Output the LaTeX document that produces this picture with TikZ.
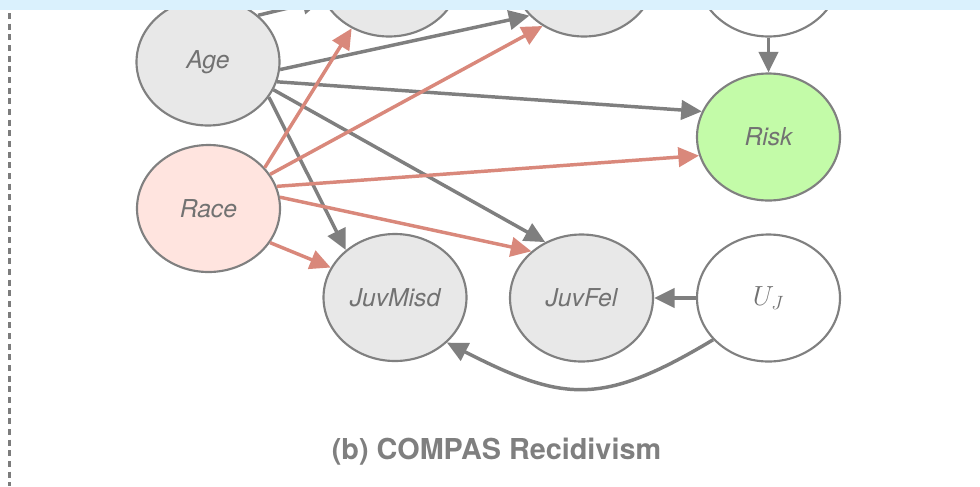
\documentclass[tikz,border=0pt]{standalone}
\usepackage{fontspec}
\setmainfont{TeX Gyre Heros}
\usetikzlibrary{shapes.geometric,arrows.meta}

\definecolor{edgegray}{HTML}{7F7F7F}
\definecolor{edgered}{HTML}{D9887B}
\definecolor{nodegray}{HTML}{E8E8E8}
\definecolor{racefill}{HTML}{FFE4DF}
\definecolor{riskfill}{HTML}{C3FBA8}
\definecolor{bordergray}{HTML}{808080}
\definecolor{labelgray}{HTML}{727272}
\definecolor{bandblue}{HTML}{DAF1FD}
\definecolor{rulegray}{HTML}{7C7C7C}

\begin{document}
\begin{tikzpicture}[x=0.75pt,y=0.75pt,
  var/.style={ellipse, draw=bordergray, line width=1.6pt,
    minimum width=107.25pt, minimum height=95.25pt, inner sep=0pt,
    text=labelgray, font=\fontsize{18.5}{20}\selectfont\itshape},
  observed/.style={var, fill=nodegray},
  latent/.style={var, fill=white},
  link/.style={line width=2.6pt, draw=edgegray,
    -{Triangle[length=15.5pt,width=14.5pt]}},
  redlink/.style={link, draw=edgered},
]
\useasboundingbox (0,0) rectangle (980,-486);
\clip (0,0) rectangle (980,-486);

% nodes of the upper row (mostly outside the frame)
\node[observed] (topA) at (389,27) {};
\node[observed] (topB) at (584,27) {};
\node[latent]   (topC) at (768.5,27) {};

% main nodes
\node[observed] (Age) at (208,-62) {Age};
\node[var, fill=racefill] (Race) at (208.5,-208.5) {Race};
\node[var, fill=riskfill] (Risk) at (768.5,-137) {Risk};
\node[observed] (JuvMisd) at (395,-297.5) {JuvMisd};
\node[observed] (JuvFel) at (581.5,-298) {JuvFel};
\node[latent, font=\fontsize{21}{24}\selectfont] (UJ) at (768.5,-298) {$U_J$};

% edges from Age
\draw[link] (Age.43.8) -- (topA.202);
\draw[link] (Age.-6.3) -- (topB.218.4);
\draw[link] (Age.-16.9) -- (Risk.159.2);
\draw[link] (Age.-23.3) -- (JuvFel.123.6);
\draw[link] (Age.-30.3) -- (JuvMisd.136.4);

% edges from Race
\draw[redlink] (Race.36.6) -- (topA.236.8);
\draw[redlink] (Race.29.4) -- (topB.232.6);
\draw[redlink] (Race.18.9) -- (Risk.195.5);
\draw[redlink] (Race.9.9) -- (JuvFel.137.7);
\draw[redlink] (Race.-29.4) -- (JuvMisd.155.6);

% remaining edges
\draw[link] (topC.south) -- (Risk.north);
\draw[link] (UJ.west) -- (JuvFel.east);
\draw[link] (UJ.217.8) to[out=211,in=-27,looseness=1.25] (JuvMisd.-41.8);

% frame decorations
\draw[rulegray, line width=1.9pt, dash pattern=on 4.5pt off 3.5pt] (9.5,-13) -- (9.5,-486);
\fill[bandblue] (0,0) rectangle (980,-10);

% caption
\node[anchor=base, text=edgegray, font=\fontsize{21.6}{24}\selectfont\bfseries]
  (caption) at (496.5,-459) {(b) COMPAS Recidivism};
\end{tikzpicture}
\end{document}
